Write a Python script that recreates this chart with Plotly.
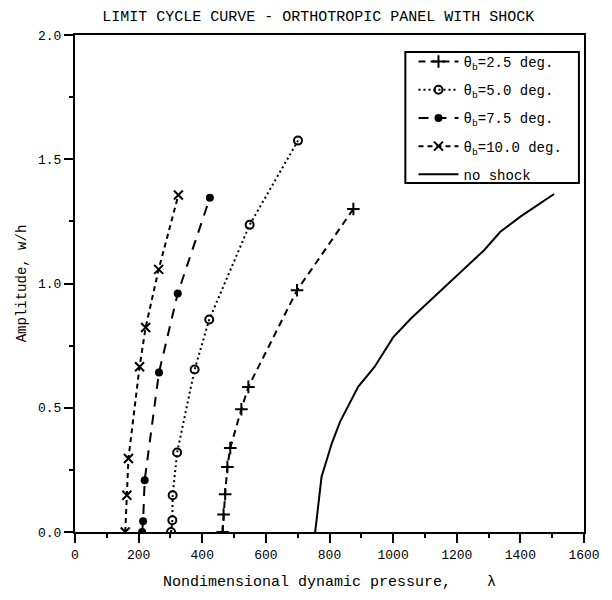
import plotly.graph_objects as go

# ---- data ----
x_25 = [464, 467, 472, 479, 488, 523, 545, 698, 875]
y_25 = [0.0, 0.070, 0.152, 0.262, 0.338, 0.494, 0.584, 0.973, 1.300]

x_50 = [302, 306, 307, 321, 376, 422, 549, 701]
y_50 = [0.0, 0.047, 0.148, 0.320, 0.654, 0.855, 1.236, 1.575]

x_75 = [211, 214, 219, 264, 323, 424]
y_75 = [0.0, 0.043, 0.208, 0.642, 0.960, 1.345]

x_100 = [158, 163, 168, 203, 222, 263, 325]
y_100 = [0.0, 0.148, 0.296, 0.665, 0.823, 1.057, 1.356]

x_ns = [755, 763, 775, 791, 807, 833, 890, 942, 1000, 1056, 1140, 1286, 1337, 1400, 1506]
y_ns = [0.0, 0.10, 0.222, 0.289, 0.356, 0.443, 0.584, 0.665, 0.783, 0.859, 0.960, 1.134, 1.208, 1.269, 1.360]

names = ["θ<sub>b</sub>=2.5 deg.", "θ<sub>b</sub>=5.0 deg.", "θ<sub>b</sub>=7.5 deg.",
         "θ<sub>b</sub>=10.0 deg.", "no shock"]

FONT = "Liberation Mono, Courier New, monospace"

fig = go.Figure()
fig.add_trace(go.Scatter(x=x_25, y=y_25, name=names[0], legendgroup="a",
                         mode="lines+markers",
                         line=dict(color="black", width=2, dash="7px,5px"),
                         marker=dict(symbol="cross-thin", size=9, color="black",
                                     line=dict(color="black", width=2))))
fig.add_trace(go.Scatter(x=x_50, y=y_50, name=names[1], legendgroup="b",
                         mode="lines+markers",
                         line=dict(color="black", width=2, dash="2px,3px"),
                         marker=dict(symbol="circle-open", size=8, color="black",
                                     line=dict(color="black", width=2))))
fig.add_trace(go.Scatter(x=x_75, y=y_75, name=names[2], legendgroup="c",
                         mode="lines+markers",
                         line=dict(color="black", width=2, dash="10px,8px"),
                         marker=dict(symbol="circle", size=8, color="black")))
fig.add_trace(go.Scatter(x=x_100, y=y_100, name=names[3], legendgroup="d",
                         mode="lines+markers",
                         line=dict(color="black", width=2, dash="5px,4px"),
                         marker=dict(symbol="x-thin", size=9, color="black",
                                     line=dict(color="black", width=2))))
fig.add_trace(go.Scatter(x=x_ns, y=y_ns, name=names[4], legendgroup="e",
                         mode="lines",
                         line=dict(color="black", width=2)))

fig.update_layout(
    width=612, height=600,
    margin=dict(l=75, r=24, t=35, b=68),
    paper_bgcolor="white", plot_bgcolor="white",
    font=dict(family=FONT, color="black", size=13),
    title=dict(text="LIMIT CYCLE CURVE - ORTHOTROPIC PANEL WITH SHOCK",
               x=0.52, xanchor="center", y=0.973, yanchor="middle",
               xref="container", yref="container",
               font=dict(family=FONT, size=15, color="black")),
    showlegend=True,
    legend=dict(x=0.665, y=0.978, xanchor="left", yanchor="top",
                bgcolor="rgba(0,0,0,0)", borderwidth=0,
                font=dict(family=FONT, size=14, color="black"),
                tracegroupgap=7, itemwidth=40),
    shapes=[dict(type="rect", xref="paper", yref="paper",
                 x0=0.649, x1=0.990, y0=0.702, y1=0.966,
                 line=dict(color="black", width=2), fillcolor="rgba(0,0,0,0)",
                 layer="above")],
)

fig.update_xaxes(range=[0, 1600], dtick=200, tick0=0,
                 showgrid=False, zeroline=False,
                 showline=True, linecolor="black", linewidth=2, mirror=True,
                 ticks="outside", ticklen=9, tickwidth=2, tickcolor="black",
                 minor=dict(dtick=100, ticks="outside", ticklen=4, tickwidth=2, tickcolor="black"),
                 tickfont=dict(family=FONT, size=13),
                 title=dict(text="Nondimensional dynamic pressure,    λ",
                            font=dict(family=FONT, size=15), standoff=14))
fig.update_yaxes(range=[0, 2], dtick=0.5, tick0=0, tickformat=".1f",
                 showgrid=False, zeroline=False,
                 showline=True, linecolor="black", linewidth=2, mirror=True,
                 ticks="outside", ticklen=9, tickwidth=2, tickcolor="black",
                 minor=dict(dtick=0.25, ticks="outside", ticklen=4, tickwidth=2, tickcolor="black"),
                 tickfont=dict(family=FONT, size=13),
                 title=dict(text="Amplitude, w/h",
                            font=dict(family=FONT, size=14), standoff=8))

fig.write_html("out.html")
